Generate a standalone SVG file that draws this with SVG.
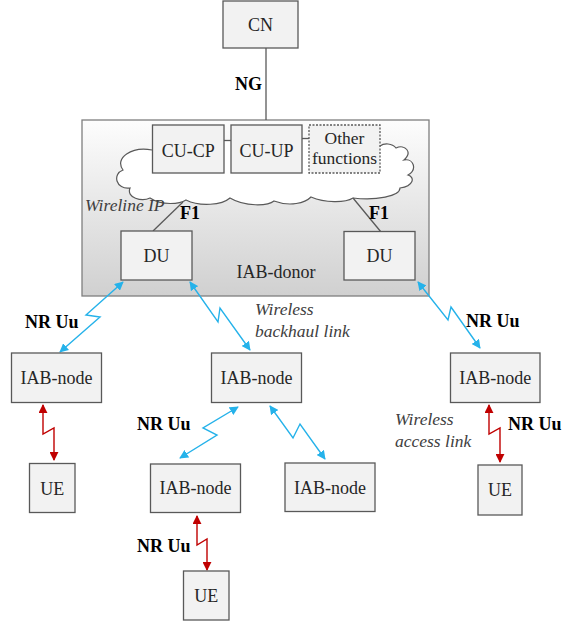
<svg xmlns="http://www.w3.org/2000/svg" width="562" height="624" viewBox="0 0 562 624" font-family="Liberation Serif, Times New Roman, serif">
<defs>
<linearGradient id="donorGrad" x1="0" y1="0" x2="0" y2="1">
<stop offset="0" stop-color="#fdfdfd"/>
<stop offset="1" stop-color="#d0d0d0"/>
</linearGradient>
<marker id="ab" viewBox="0 0 10 10" refX="9" refY="5" markerWidth="9" markerHeight="9" markerUnits="userSpaceOnUse" orient="auto-start-reverse">
<path d="M0,0 L10,5 L0,10 Z" fill="#25b2ea"/>
</marker>
<marker id="ar" viewBox="0 0 10 10" refX="9" refY="5" markerWidth="9" markerHeight="9" markerUnits="userSpaceOnUse" orient="auto-start-reverse">
<path d="M0,0 L10,5 L0,10 Z" fill="#c00000"/>
</marker>
</defs>
<style>
.box{fill:#f2f2f2;stroke:#595959;stroke-width:1.3}
.t{font-size:18px;fill:#262626;text-anchor:middle}
.b{font-size:18px;font-weight:bold;fill:#000}
.i{font-size:17.5px;font-style:italic;fill:#404040}
.ln{stroke:#595959;stroke-width:1.3;fill:none}
.blue{stroke:#25b2ea;stroke-width:1.4;fill:none;marker-start:url(#ab);marker-end:url(#ab)}
.red{stroke:#c00000;stroke-width:1.4;fill:none;marker-start:url(#ar);marker-end:url(#ar)}
</style>

<g id="donor">
<rect x="82" y="120" width="347" height="176" fill="url(#donorGrad)" stroke="#7f7f7f" stroke-width="1.3"/>
<text class="t" x="276" y="278" font-family="Liberation Serif, serif">IAB-donor</text>
</g>

<g id="cloud">
<path d="M152,150 C132,146 114,158 123,170 C112,174 116,190 130,188 C126,198 142,202 150,198 C162,206 180,204 186,200 C200,207 222,205 230,198 C245,207 268,206 274,201 C290,207 305,203 311,197 C325,203 345,203 353,198 C376,201 400,196 400,188 C414,186 415,177 408,175 C418,169 413,158 404,160 C413,152 405,144 396,148 C392,143 384,143 380,146 L380,140 L152,140 Z" fill="#ffffff" stroke="none"/>
<path d="M152,150 C132,146 114,158 123,170 C112,174 116,190 130,188 C126,198 142,202 150,198 C162,206 180,204 186,200 C200,207 222,205 230,198 C245,207 268,206 274,201 C290,207 305,203 311,197 C325,203 345,203 353,198 C376,201 400,196 400,188 C414,186 415,177 408,175 C418,169 413,158 404,160 C413,152 405,144 396,148 C392,143 384,143 380,146" fill="none" stroke="#595959" stroke-width="1.2"/>
</g>

<g id="connectors">
<line class="ln" x1="266" y1="48" x2="266" y2="120"/>
<line class="ln" x1="224" y1="140.5" x2="231" y2="140.5"/>
<line class="ln" x1="302" y1="138.5" x2="309" y2="138.5"/>
<line class="ln" x1="183" y1="202" x2="153" y2="231"/>
<line class="ln" x1="353" y1="198" x2="381" y2="232"/>
<path class="blue" d="M123,282 L86,315 L100,317 L60,352"/>
<path class="blue" d="M190,282 L218,322 L220,308 L250,350"/>
<path class="blue" d="M418,282 L448,320 L451,307 L480,348"/>
<path class="blue" d="M238,407 L203,428 L217,435 L180,458"/>
<path class="blue" d="M270,406 L293,438 L300,424 L325,459"/>
<path class="red" d="M43,405 L43,434 L54,428 L54,460"/>
<path class="red" d="M197,516 L197,545 L207,539 L207,570"/>
<path class="red" d="M489,405 L489,434 L500,428 L500,462"/>
</g>

<g id="cn"><rect class="box" x="223" y="1" width="75" height="47"/><text class="t" x="260.5" y="31">CN</text></g>
<g id="cucp"><rect class="box" x="152.5" y="125" width="71.5" height="48"/><text class="t" x="188.2" y="157">CU-CP</text></g>
<g id="cuup"><rect class="box" x="231" y="125" width="71" height="48"/><text class="t" x="266.5" y="157">CU-UP</text></g>
<g id="other"><rect class="box" x="309" y="125" width="71" height="48" stroke-dasharray="2,1.5"/><text class="t" x="344.5" y="143.5" style="font-size:17.5px">Other</text><text class="t" x="344.5" y="163.5" style="font-size:17.5px">functions</text></g>
<g id="du1"><rect class="box" x="121" y="231" width="71" height="49"/><text class="t" x="156.5" y="262">DU</text></g>
<g id="du2"><rect class="box" x="344" y="231.5" width="71" height="48.5"/><text class="t" x="379.5" y="262">DU</text></g>
<g id="iab1"><rect class="box" x="11.5" y="353" width="90" height="49.5"/><text class="t" x="56.5" y="383.5">IAB-node</text></g>
<g id="iab2"><rect class="box" x="211.5" y="353" width="90" height="49.5"/><text class="t" x="256.5" y="383.5">IAB-node</text></g>
<g id="iab3"><rect class="box" x="450.5" y="353" width="89.5" height="49.5"/><text class="t" x="495.2" y="384">IAB-node</text></g>
<g id="iab4"><rect class="box" x="150.5" y="464" width="90" height="48.5"/><text class="t" x="195.5" y="494">IAB-node</text></g>
<g id="iab5"><rect class="box" x="285" y="463" width="90" height="48.5"/><text class="t" x="330" y="494">IAB-node</text></g>
<g id="ue1"><rect class="box" x="29.5" y="463.5" width="45.5" height="49"/><text class="t" x="52.2" y="494.5">UE</text></g>
<g id="ue2"><rect class="box" x="183.5" y="571" width="45.5" height="49"/><text class="t" x="206.2" y="601.5">UE</text></g>
<g id="ue3"><rect class="box" x="478" y="465" width="44" height="50"/><text class="t" x="500" y="495.5">UE</text></g>

<g id="labels">
<text class="b" x="235" y="90">NG</text>
<text class="b" x="180" y="219">F1</text>
<text class="b" x="369" y="219">F1</text>
<text class="i" x="85" y="211">Wireline IP</text>
<text class="i" x="255" y="315">Wireless</text>
<text class="i" x="255" y="337">backhaul link</text>
<text class="i" x="395" y="425">Wireless</text>
<text class="i" x="395" y="447">access link</text>
<text class="b" x="25" y="328">NR Uu</text>
<text class="b" x="466" y="327">NR Uu</text>
<text class="b" x="137" y="430">NR Uu</text>
<text class="b" x="508" y="430">NR Uu</text>
<text class="b" x="137" y="552">NR Uu</text>
</g>
</svg>
